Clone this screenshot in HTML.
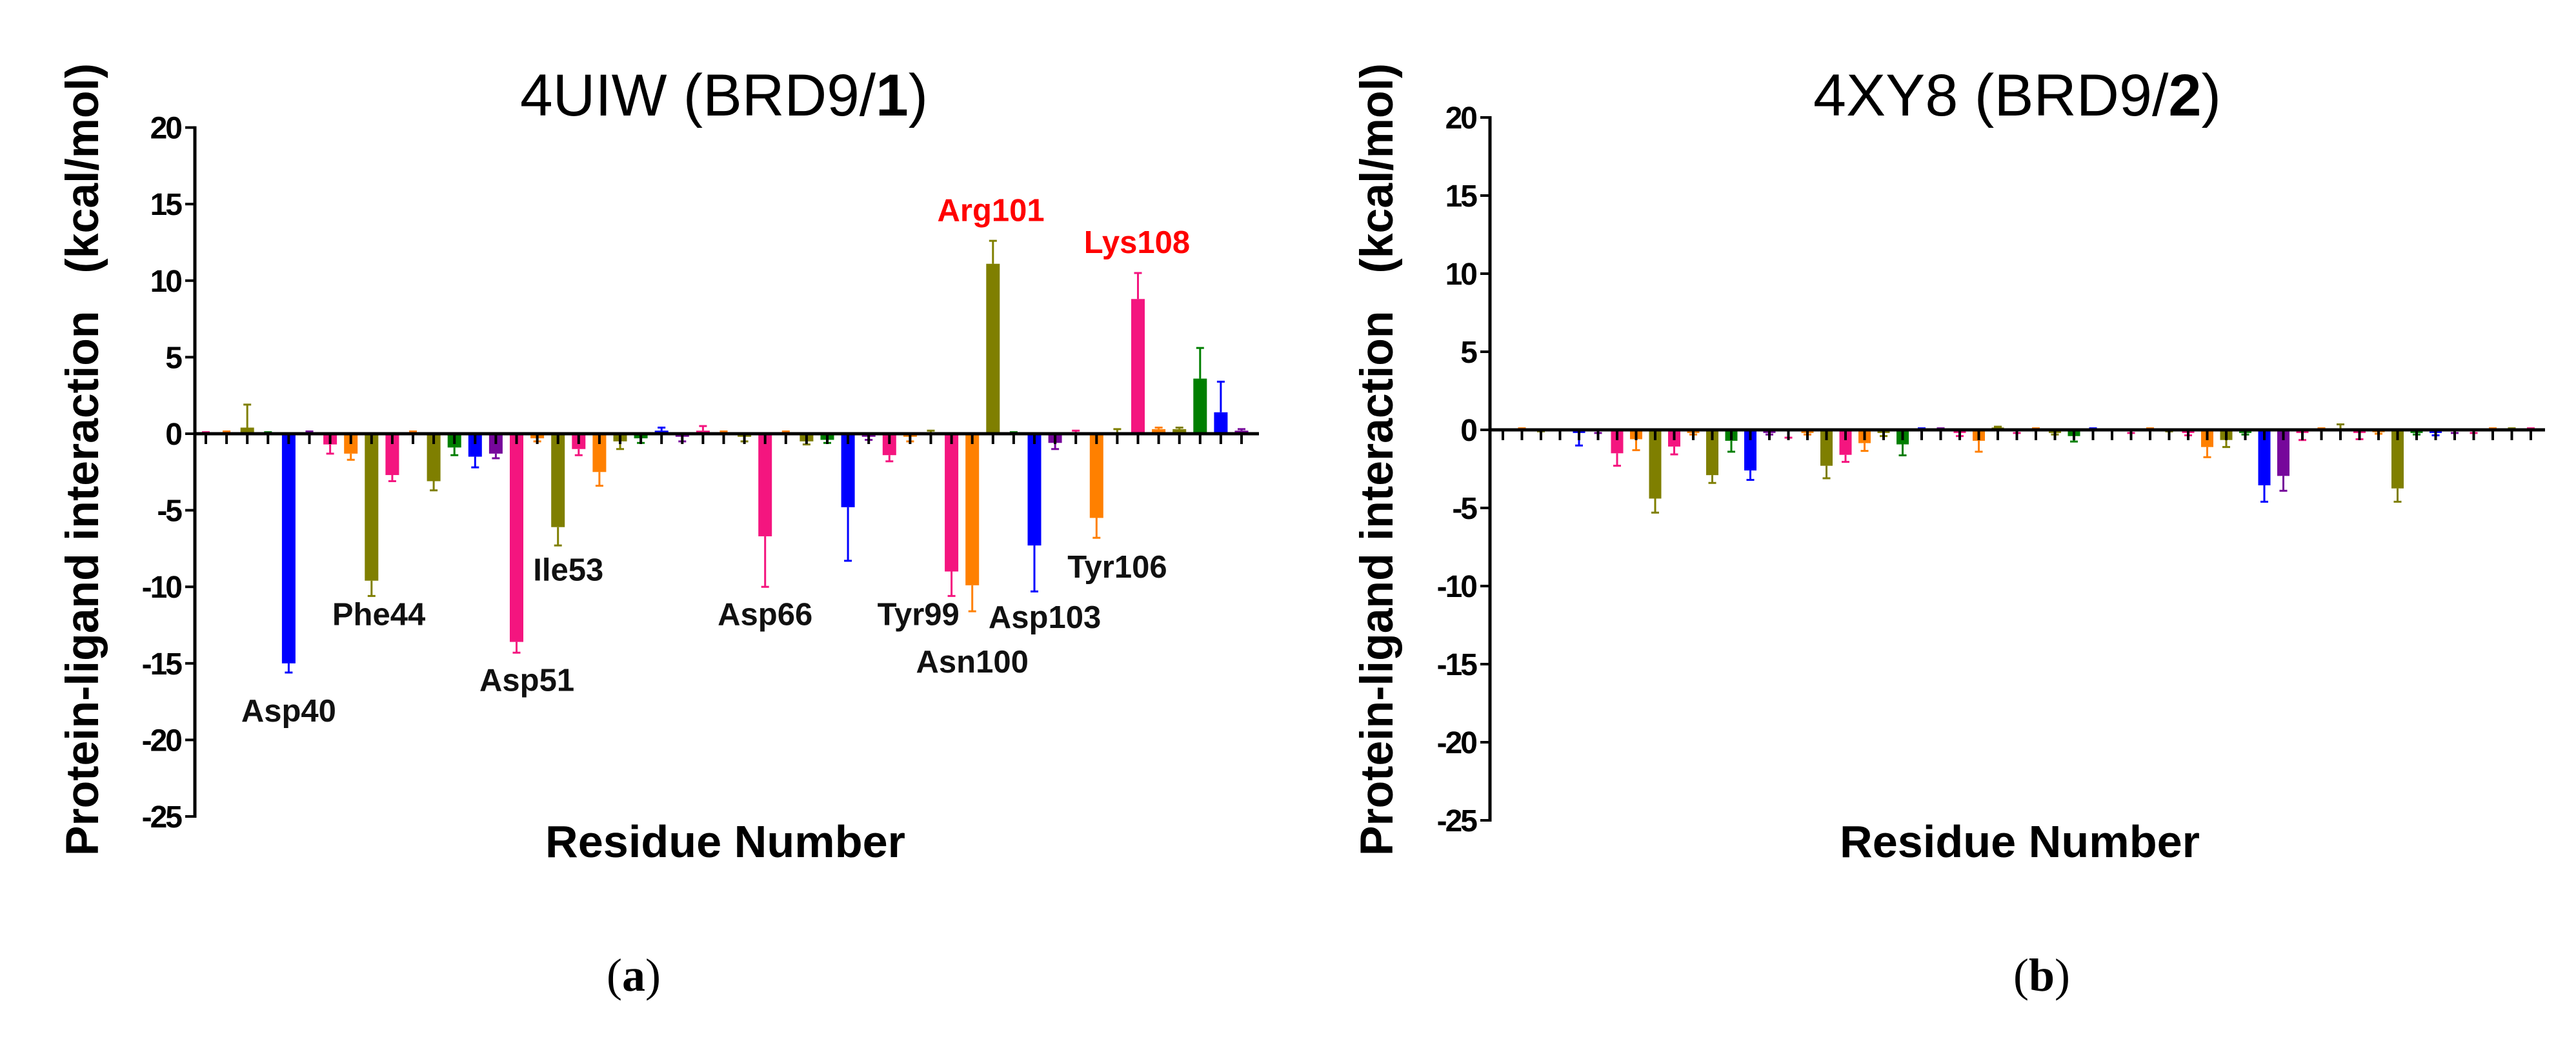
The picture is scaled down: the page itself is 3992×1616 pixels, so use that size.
<!DOCTYPE html>
<html><head><meta charset="utf-8">
<style>
html,body{margin:0;padding:0;background:#fff;}
svg{display:block;}
text{font-family:"Liberation Sans",Arial,sans-serif;}
</style></head>
<body>
<svg id="fig" width="3992" height="1616" viewBox="0 0 3992 1616" xmlns="http://www.w3.org/2000/svg">
<g id="panelA"></g>
<g id="panelB"></g>
</svg>
<script>
// ---- data ----
const yTicks = [20, 15, 10, 5, 0, -5, -10, -15, -20, -25];
const palette = ["#f4157f", "#ff8000", "#7f7f00", "#007f00", "#0000ff", "#76079b"];
const colorCycle = [0, 1, 2, 3, 4, 5, 0, 1, 2];

const valuesA = [0.05, 0.1, 0.4, 0.05, -15.0, 0.1, -0.7, -1.3, -9.6, -2.7,
  0.1, -3.1, -0.9, -1.5, -1.3, -13.6, -0.3, -6.1, -1.0, -2.5,
  -0.5, -0.3, 0.2, -0.2, 0.2, 0.1, -0.2, -6.7, 0.1, -0.5,
  -0.4, -4.8, -0.2, -1.4, -0.2, 0.1, -9.0, -9.9, 11.1, 0.05,
  -7.3, -0.6, 0.1, -5.5, 0.1, 8.8, 0.3, 0.3, 3.6, 1.4, 0.2];
const errorsA = [0.05, 0.05, 1.5, 0.05, 0.6, 0.05, 0.6, 0.4, 1.0, 0.4,
  0.05, 0.6, 0.5, 0.7, 0.3, 0.7, 0.2, 1.2, 0.4, 0.9,
  0.5, 0.3, 0.2, 0.3, 0.3, 0.05, 0.3, 3.3, 0.05, 0.2,
  0.2, 3.5, 0.2, 0.4, 0.3, 0.1, 1.6, 1.7, 1.5, 0.05,
  3.0, 0.4, 0.1, 1.3, 0.2, 1.7, 0.1, 0.1, 2.0, 2.0, 0.1];

const valuesB = [0.0, 0.05, -0.05, 0.0, -0.2, -0.1, -1.5, -0.6, -4.4, -1.07,
  -0.2, -2.9, -0.7, -2.6, -0.2, -0.1, -0.2, -2.3, -1.6, -0.85,
  -0.2, -0.93, 0.05, 0.05, -0.2, -0.7, 0.15, -0.1, 0.05, -0.2,
  -0.4, 0.05, 0.0, -0.1, 0.05, -0.05, -0.2, -1.1, -0.65, -0.2,
  -3.55, -2.95, -0.2, 0.05, 0.05, -0.2, -0.15, -3.75, -0.2, -0.2,
  -0.1, -0.1, 0.05, 0.05, 0.05];
const errorsB = [0.0, 0.05, 0.05, 0.0, 0.8, 0.1, 0.8, 0.7, 0.9, 0.5,
  0.1, 0.5, 0.7, 0.6, 0.1, 0.4, 0.1, 0.8, 0.45, 0.5,
  0.2, 0.7, 0.05, 0.05, 0.2, 0.7, 0.05, 0.1, 0.05, 0.1,
  0.35, 0.05, 0.0, 0.1, 0.05, 0.05, 0.15, 0.65, 0.45, 0.1,
  1.05, 0.95, 0.45, 0.05, 0.3, 0.4, 0.1, 0.85, 0.1, 0.15,
  0.1, 0.1, 0.05, 0.05, 0.05];

const labelsA = ["Asp40", "Phe44", "Asp51", "Ile53", "Asp66", "Tyr99", "Asn100", "Asp103", "Tyr106", "Arg101", "Lys108"];
const labelPosA = [4.0, 8.35, 15.5, 17.5, 27.0, 34.4, 37.0, 40.5, 44.0, 37.9, 44.95];
const labelValA = [-18.8, -12.5, -16.8, -9.6, -12.5, -12.5, -15.6, -12.7, -9.4, 13.9, 11.8];
const labelRed = [false, false, false, false, false, false, false, false, false, true, true];

const NS = "http://www.w3.org/2000/svg";
function el(parent, tag, attrs, txt) {
  const e = document.createElementNS(NS, tag);
  for (const k in attrs) e.setAttribute(k, attrs[k]);
  if (txt !== undefined) e.textContent = txt;
  parent.appendChild(e);
  return e;
}

function drawPanel(g, cfg, values, errors) {
  const yScale = v => cfg.y0 - v * cfg.unit;
  const xScale = i => cfg.x0 + i * cfg.step;

  const t = el(g, "text", {x: cfg.titleX, y: 179, "text-anchor": "middle", "font-size": 92, textLength: 632, lengthAdjust: "spacingAndGlyphs", fill: "#000"});
  
  
  el(t, "tspan", {}, cfg.titleA);
  el(t, "tspan", {"font-weight": "bold"}, cfg.titleB);
  el(t, "tspan", {}, ")");

  const yt = el(g, "text", {x: 0, y: 0, transform: `translate(${cfg.yTitleX},712) rotate(-90)`, "text-anchor": "middle", "font-size": 71, "font-weight": "bold", textLength: 1228, lengthAdjust: "spacingAndGlyphs", fill: "#000", style: "white-space:pre"}, "Protein-ligand interaction   (kcal/mol)");
  
  

  const xt = el(g, "text", {x: cfg.xTitleX, y: 1328, "text-anchor": "middle", "font-size": 70, "font-weight": "bold", textLength: 558, lengthAdjust: "spacingAndGlyphs", fill: "#000"}, "Residue Number");
  
  

  const pl = el(g, "text", {x: cfg.panelX, y: 1535, "text-anchor": "middle", "font-size": 72, fill: "#000", style: "font-family:'Liberation Serif',serif"});
  
  
  el(pl, "tspan", {}, "(");
  el(pl, "tspan", {"font-weight": "bold"}, cfg.panelLetter);
  el(pl, "tspan", {}, ")");

  values.forEach((v, i) => {
    const col = palette[colorCycle[i % 9]];
    const cx = xScale(i);
    const yv = yScale(v), yz = yScale(0);
    const bar = el(g, "rect", {x: cx - cfg.bw / 2, y: Math.min(yv, yz), width: cfg.bw, height: Math.max(Math.abs(yz - yv), 0.5), fill: col});
    
    
    const ee = v >= 0 ? v + errors[i] : v - errors[i];
    const ye = yScale(ee);
    const eb = el(g, "path", {d: `M${cx},${yv}V${ye}M${cx - 6},${ye}H${cx + 6}`, stroke: col, "stroke-width": 3, fill: "none"});
    
    
  });

  values.forEach((v, i) => {
    const cx = xScale(i);
    const tk = el(g, "line", {x1: cx, x2: cx, y1: yScale(0), y2: yScale(0) + 16, stroke: "#000", "stroke-width": 4});
    
    
  });

  const ya = el(g, "line", {x1: cfg.axisX, x2: cfg.axisX, y1: yScale(yTicks[0]) - 2, y2: yScale(yTicks[yTicks.length - 1]) + 2, stroke: "#000", "stroke-width": 5});
  
  
  const xa = el(g, "line", {x1: cfg.axisX, x2: cfg.axisEnd, y1: yScale(0), y2: yScale(0), stroke: "#000", "stroke-width": 5});
  
  

  yTicks.forEach(tv => {
    const y = yScale(tv);
    const tl = el(g, "line", {x1: cfg.axisX - 15, x2: cfg.axisX, y1: y, y2: y, stroke: "#000", "stroke-width": 4});
    
    
    const lb = el(g, "text", {x: cfg.axisX - 22, y: y + 17, "text-anchor": "end", "font-size": 48, "font-weight": "bold", "letter-spacing": -3, fill: "#000"}, String(tv));
    
    
  });
  return {xScale, yScale};
}

const cfgA = {x0: 319, step: 32.1, bw: 21, y0: 672, unit: 23.72, axisX: 302, axisEnd: 1951,
  titleX: 1122, titleA: "4UIW (BRD9/", titleB: "1", yTitleX: 152, xTitleX: 1124, panelX: 982, panelLetter: "a"};
const cfgB = {x0: 2329, step: 29.5, bw: 19, y0: 666, unit: 24.2, axisX: 2309, axisEnd: 3944,
  titleX: 3126, titleA: "4XY8 (BRD9/", titleB: "2", yTitleX: 2158, xTitleX: 3130, panelX: 3164, panelLetter: "b"};

const gA = document.getElementById("panelA");
const gB = document.getElementById("panelB");
const sA = drawPanel(gA, cfgA, valuesA, errorsA);
drawPanel(gB, cfgB, valuesB, errorsB);

labelsA.forEach((name, k) => {
  const x = sA.xScale(labelPosA[k]);
  const y = sA.yScale(labelValA[k]);
  const a = el(gA, "text", {x: x, y: y, "text-anchor": "middle", "font-size": 49, "font-weight": "bold", fill: labelRed[k] ? "#ff0000" : "#111"}, name);
  
  
});
</script>
</body></html>
